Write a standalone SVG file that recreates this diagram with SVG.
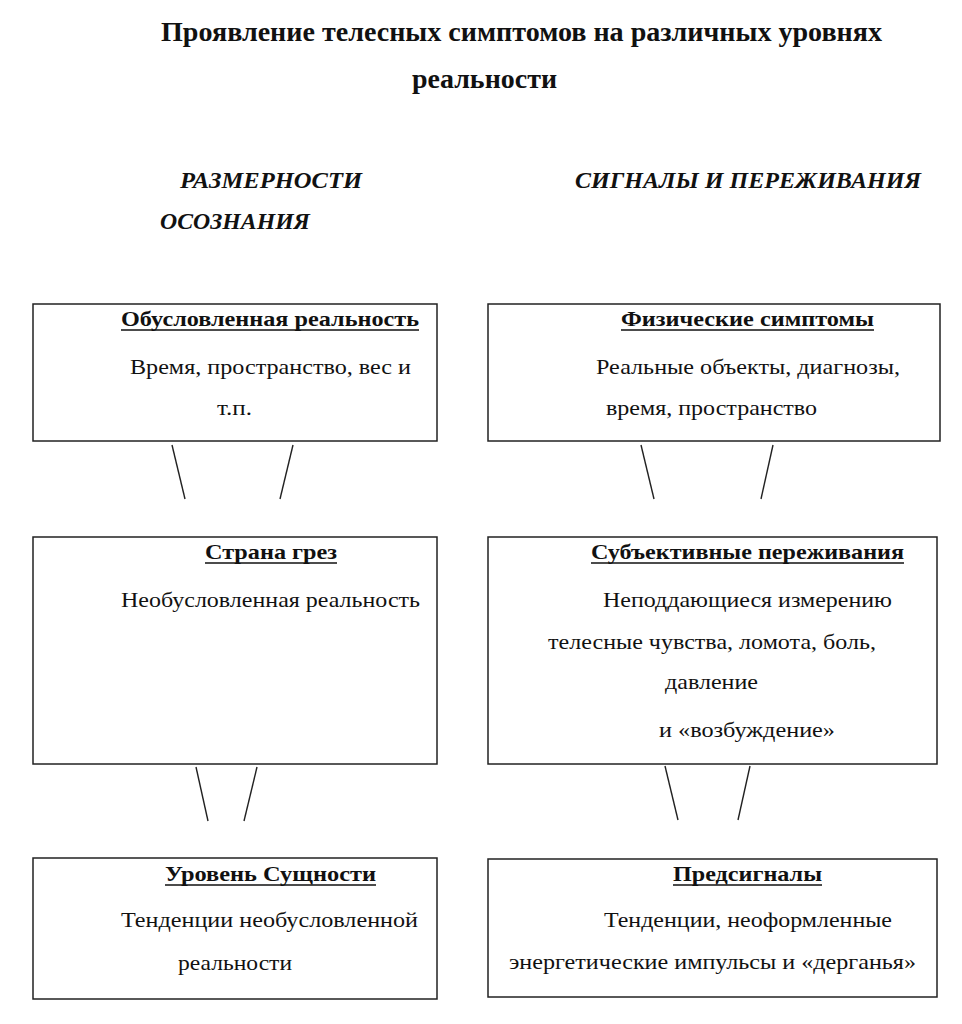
<svg xmlns="http://www.w3.org/2000/svg" width="962" height="1024" viewBox="0 0 962 1024">
<style>
text{font-family:"Liberation Serif","Times New Roman",serif;fill:#111}
.t{font-size:27px;font-weight:bold}
.h{font-size:23px;font-weight:bold;font-style:italic}
.b{font-size:22px;font-weight:bold}
.n{font-size:22px}
.box{fill:#fff;stroke:#222;stroke-width:1.5}
.ul{stroke:#111;stroke-width:1.7}
.c{stroke:#222;stroke-width:1.4}
</style>
<rect width="962" height="1024" fill="#fff"/>
<g id="title">
<text class="t" x="161" y="41" textLength="721" lengthAdjust="spacingAndGlyphs">Проявление телесных симптомов на различных уровнях</text>
<text class="t" x="412" y="88" textLength="145" lengthAdjust="spacingAndGlyphs">реальности</text>
</g>
<g id="headers">
<text class="h" x="180" y="188" textLength="182" lengthAdjust="spacingAndGlyphs">РАЗМЕРНОСТИ</text>
<text class="h" x="160" y="229" textLength="150" lengthAdjust="spacingAndGlyphs">ОСОЗНАНИЯ</text>
<text class="h" x="575" y="188" textLength="346" lengthAdjust="spacingAndGlyphs">СИГНАЛЫ И ПЕРЕЖИВАНИЯ</text>
</g>
<g id="connectors">
<line class="c" x1="172" y1="445" x2="185" y2="499"/>
<line class="c" x1="293" y1="445" x2="280" y2="499"/>
<line class="c" x1="641" y1="445" x2="654" y2="499"/>
<line class="c" x1="773" y1="445" x2="761" y2="499"/>
<line class="c" x1="196" y1="767" x2="208" y2="821"/>
<line class="c" x1="257" y1="767" x2="244" y2="821"/>
<line class="c" x1="665" y1="766" x2="678" y2="820"/>
<line class="c" x1="750" y1="766" x2="738" y2="820"/>
</g>
<g id="conditioned-reality">
<rect class="box" x="33" y="304" width="404" height="137"/>
<text class="b" x="121" y="326" textLength="298" lengthAdjust="spacingAndGlyphs">Обусловленная реальность</text>
<line class="ul" x1="121" y1="330" x2="419" y2="330"/>
<text class="n" x="130" y="374" textLength="281" lengthAdjust="spacingAndGlyphs">Время, пространство, вес и</text>
<text class="n" x="217" y="415" textLength="35" lengthAdjust="spacingAndGlyphs">т.п.</text>
</g>
<g id="physical-symptoms">
<rect class="box" x="488" y="304" width="452" height="137"/>
<text class="b" x="621" y="326" textLength="253" lengthAdjust="spacingAndGlyphs">Физические симптомы</text>
<line class="ul" x1="621" y1="330" x2="874" y2="330"/>
<text class="n" x="596" y="374" textLength="304" lengthAdjust="spacingAndGlyphs">Реальные объекты, диагнозы,</text>
<text class="n" x="606" y="415" textLength="211" lengthAdjust="spacingAndGlyphs">время, пространство</text>
</g>
<g id="dreamland">
<rect class="box" x="33" y="537" width="404" height="227"/>
<text class="b" x="205" y="559" textLength="132" lengthAdjust="spacingAndGlyphs">Страна грез</text>
<line class="ul" x1="205" y1="563" x2="337" y2="563"/>
<text class="n" x="121" y="607" textLength="299" lengthAdjust="spacingAndGlyphs">Необусловленная реальность</text>
</g>
<g id="subjective-experiences">
<rect class="box" x="488" y="537" width="449" height="227"/>
<text class="b" x="591" y="559" textLength="313" lengthAdjust="spacingAndGlyphs">Субъективные переживания</text>
<line class="ul" x1="591" y1="563" x2="904" y2="563"/>
<text class="n" x="603" y="607" textLength="289" lengthAdjust="spacingAndGlyphs">Неподдающиеся измерению</text>
<text class="n" x="548" y="649" textLength="328" lengthAdjust="spacingAndGlyphs">телесные чувства, ломота, боль,</text>
<text class="n" x="665" y="689" textLength="93" lengthAdjust="spacingAndGlyphs">давление</text>
<text class="n" x="659" y="737" textLength="176" lengthAdjust="spacingAndGlyphs">и «возбуждение»</text>
</g>
<g id="essence-level">
<rect class="box" x="33" y="858" width="404" height="141"/>
<text class="b" x="165" y="881" textLength="211" lengthAdjust="spacingAndGlyphs">Уровень Сущности</text>
<line class="ul" x1="165" y1="885" x2="376" y2="885"/>
<text class="n" x="121" y="927" textLength="297" lengthAdjust="spacingAndGlyphs">Тенденции необусловленной</text>
<text class="n" x="178" y="970" textLength="114" lengthAdjust="spacingAndGlyphs">реальности</text>
</g>
<g id="presignals">
<rect class="box" x="488" y="859" width="449" height="138"/>
<text class="b" x="673" y="881" textLength="149" lengthAdjust="spacingAndGlyphs">Предсигналы</text>
<line class="ul" x1="673" y1="885" x2="822" y2="885"/>
<text class="n" x="604" y="927" textLength="288" lengthAdjust="spacingAndGlyphs">Тенденции, неоформленные</text>
<text class="n" x="509" y="969" textLength="407" lengthAdjust="spacingAndGlyphs">энергетические импульсы и «дерганья»</text>
</g>
</svg>
